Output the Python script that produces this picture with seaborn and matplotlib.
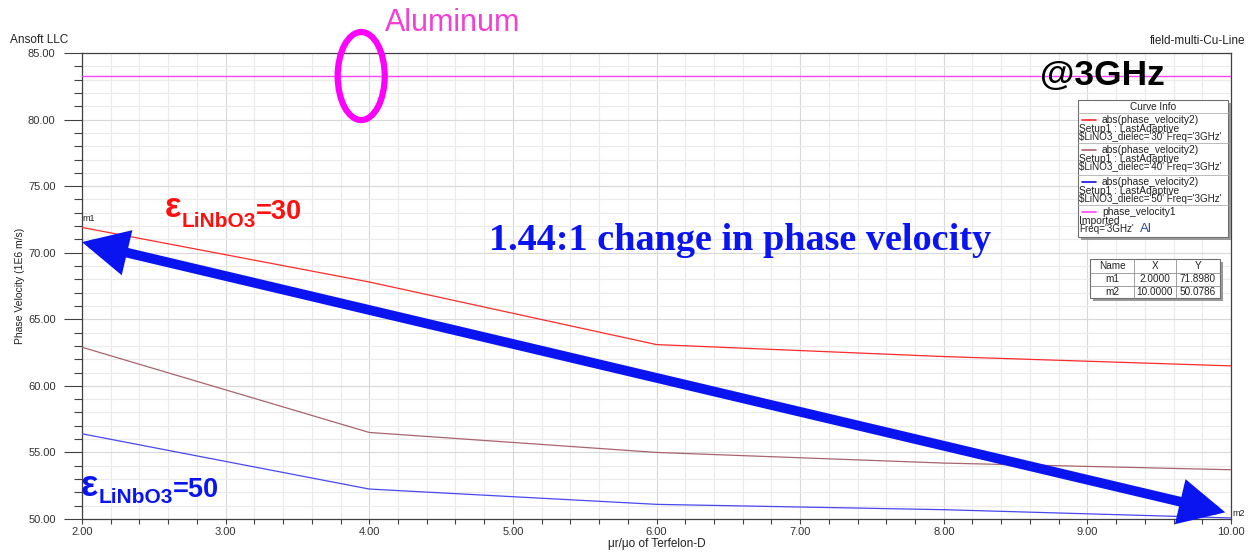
import numpy as np
import pandas as pd
import matplotlib
matplotlib.use("Agg")
import matplotlib.pyplot as plt
import seaborn as sns
from matplotlib.patches import Ellipse, Rectangle
from matplotlib.ticker import MultipleLocator, FormatStrFormatter

# ---------------- data ----------------
mu_ratio = [2, 4, 6, 8, 10]
v_eps30 = [71.898, 67.80, 63.10, 62.20, 61.50]
v_eps40 = [62.90, 56.50, 55.00, 54.20, 53.70]
v_eps50 = [56.40, 52.25, 51.10, 50.70, 50.0786]
v_aluminum = 83.25
series_names = ["eps30", "eps40", "eps50"]
series_colors = ["#ff2a2a", "#a8646e", "#4848f0"]
curve_labels = [
    ["abs(phase_velocity2)", "Setup1 : LastAdaptive", "$LiNO3_dielec='30' Freq='3GHz'"],
    ["abs(phase_velocity2)", "Setup1 : LastAdaptive", "$LiNO3_dielec='40' Freq='3GHz'"],
    ["abs(phase_velocity2)", "Setup1 : LastAdaptive", "$LiNO3_dielec='50' Freq='3GHz'"],
    ["phase_velocity1", "Imported", "Freq='3GHz'"],
]

W, H = 1253, 552
sns.set_theme(style="white")
plt.rcParams['font.family'] = ['Liberation Sans', 'DejaVu Sans']
plt.rcParams['mathtext.default'] = 'regular'

fig = plt.figure(figsize=(W / 100, H / 100), dpi=100)
ax = fig.add_axes([82 / W, 1 - 519 / H, (1231 - 82) / W, (519 - 53) / H])

df = pd.DataFrame({
    "x": mu_ratio * 3,
    "v": v_eps30 + v_eps40 + v_eps50,
    "s": sum([[n] * len(mu_ratio) for n in series_names], []),
})
sns.lineplot(data=df, x="x", y="v", hue="s", palette=dict(zip(series_names, series_colors)),
             legend=False, ax=ax, linewidth=0.9, zorder=3)
ax.axhline(v_aluminum, color="#ff44ff", lw=1.0, zorder=3)

ax.set_xlim(2, 10)
ax.set_ylim(50, 85)
ax.xaxis.set_major_locator(MultipleLocator(1))
ax.xaxis.set_minor_locator(MultipleLocator(0.2))
ax.yaxis.set_major_locator(MultipleLocator(5))
ax.yaxis.set_minor_locator(MultipleLocator(1))
ax.xaxis.set_major_formatter(FormatStrFormatter('%.2f'))
ax.yaxis.set_major_formatter(FormatStrFormatter('%.2f'))
ax.tick_params(axis='x', which='both', direction='out', length=3.5, width=0.8,
               color='#404040', labelsize=8, labelcolor='#333333', pad=2, bottom=True)
ax.tick_params(axis='y', which='major', direction='out', length=13, width=0.8,
               color='#404040', labelsize=8, labelcolor='#333333', pad=6, left=True)
ax.tick_params(axis='y', which='minor', direction='out', length=6, width=0.8,
               color='#404040', left=True)
ax.grid(which='major', color='#d8d8d8', lw=0.8)
ax.grid(which='minor', color='#ebebeb', lw=0.8)
ax.set_axisbelow(True)
for sp in ax.spines.values():
    sp.set_visible(True)
    sp.set_color('#404040')
    sp.set_linewidth(0.9)
ax.set_xlabel("μr/μo of Terfelon-D", fontsize=8.5, color='#222222', labelpad=1)
ax.set_ylabel("Phase Velocity (1E6 m/s)", fontsize=7.5, color='#222222', labelpad=2)

# marker labels
ax.annotate("m1", (mu_ratio[0], v_eps30[0]), xytext=(0, 3), textcoords='offset points',
            fontsize=6.5, color='#222222', ha='left', va='bottom')
ax.annotate("m2", (mu_ratio[-1], v_eps50[-1]), xytext=(1, 0), textcoords='offset points',
            fontsize=6.5, color='#222222', ha='left', va='bottom', annotation_clip=False)

# double arrow
ax.annotate("", xy=(2.0, 70.8), xytext=(9.96, 50.5),
            arrowprops=dict(arrowstyle='<|-|>,head_length=1.1,head_width=0.55',
                            lw=7, color='#0a14f0', mutation_scale=20,
                            shrinkA=0, shrinkB=0, joinstyle='miter'),
            zorder=5, annotation_clip=False)

# magenta ellipse
ax.add_patch(Ellipse((3.944, 83.27), 0.3275, 6.61, fill=False, edgecolor='#ff00ff',
                     lw=4.5, clip_on=False, zorder=6))

# ---------- text annotations in figure pixels ----------
def fx(x):
    return x / W


def fy(y):
    return 1 - y / H


fig.text(fx(10), fy(40), "Ansoft LLC", fontsize=8.5, color='#222222', va='center', ha='left')
fig.text(fx(1245), fy(41), "field-multi-Cu-Line", fontsize=8.5, color='#222222', va='center', ha='right')
fig.text(fx(385), fy(23), "Aluminum", fontsize=22, color='#f23fd6', va='center', ha='left')
fig.text(fx(1040), fy(76), "@3GHz", fontsize=25.5, weight='bold', color='black', va='center', ha='left')
fig.text(fx(740), fy(241), "1.44:1 change in phase velocity", fontsize=27.5, weight='bold',
         color='#0a14f0', va='center', ha='center', family='Liberation Serif')

renderer = fig.canvas.get_renderer()


def compound(x0, pieces, color):
    x = x0
    for s, size, base in pieces:
        t = fig.text(fx(x), fy(base), s, fontsize=size, weight='bold', color=color,
                     ha='left', va='baseline')
        bb = t.get_window_extent(renderer)
        x += bb.width


compound(165, [("ε", 25, 217), ("LiNbO3", 15, 227), ("=30", 19.5, 219)], '#ff1010')
compound(81, [("ε", 26, 496), ("LiNbO3", 15, 503), ("=50", 19.5, 497)], '#0a14f0')

# ---------- Curve Info box ----------
ov = fig.add_axes([0, 0, 1, 1], zorder=10)
ov.set_xlim(0, W)
ov.set_ylim(H, 0)
ov.axis('off')
ov.patch.set_alpha(0)

bx0, bx1, by0, by1 = 1078, 1228, 100, 237
ov.add_patch(Rectangle((bx0 + 3, by0 + 3), bx1 - bx0, by1 - by0, color='#9a9a9a', lw=0))
ov.add_patch(Rectangle((bx0, by0), bx1 - bx0, by1 - by0, facecolor='white',
                       edgecolor='#707070', lw=0.8))
ov.text((bx0 + bx1) / 2, 107, "Curve Info", fontsize=7.2, ha='center', va='center', color='#222222')
tops = [113, 143, 175, 205]
handle_cols = series_colors[:2] + ["#1010e0", "#ff44ff"]
for top, lab, col in zip(tops, curve_labels, handle_cols):
    ov.plot([bx0, bx1], [top, top], color='#b0b0b0', lw=0.6)
    ov.plot([1082, 1096], [top + 7, top + 7], color=col, lw=1.2)
    ov.text(1102, top + 7, lab[0], fontsize=7.4, ha='left', va='center', color='#222222')
    ov.text(1079, top + 15.5, lab[1], fontsize=7.4, ha='left', va='center', color='#222222')
    ov.text(1079, top + 23.5, lab[2].replace('$', r'\$'), fontsize=7.15, ha='left', va='center',
            color='#222222')
ov.text(1140, 229, "Al", fontsize=9.5, ha='left', va='center', color='#2a4ea6')

# ---------- marker table ----------
tx0, tx1, ty0, ty1 = 1090, 1220, 259, 298
cols = [tx0, 1134, 1176, tx1]
rows = [ty0, 272.5, 285.5, ty1]
ov.add_patch(Rectangle((tx0 + 3, ty0 + 3), tx1 - tx0, ty1 - ty0, color='#9a9a9a', lw=0))
ov.add_patch(Rectangle((tx0, ty0), tx1 - tx0, ty1 - ty0, facecolor='white',
                       edgecolor='#707070', lw=0.8))
for c in cols[1:-1]:
    ov.plot([c, c], [ty0, ty1], color='#909090', lw=0.6)
for r in rows[1:-1]:
    ov.plot([tx0, tx1], [r, r], color='#909090', lw=0.6)
table = [["Name", "X", "Y"],
         ["m1", "%.4f" % mu_ratio[0], "%.4f" % v_eps30[0]],
         ["m2", "%.4f" % mu_ratio[-1], "%.4f" % v_eps50[-1]]]
for i, row in enumerate(table):
    yc = (rows[i] + rows[i + 1]) / 2
    for j, cell in enumerate(row):
        xc = (cols[j] + cols[j + 1]) / 2
        ov.text(xc, yc, cell, fontsize=7.2, ha='center', va='center', color='#222222')

fig.savefig("out.png", dpi=100)
